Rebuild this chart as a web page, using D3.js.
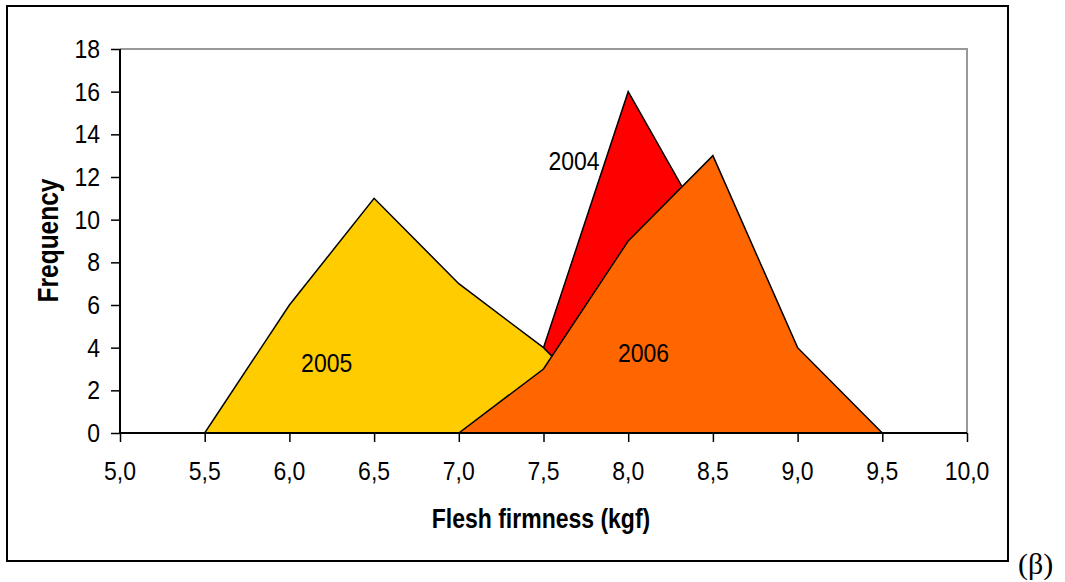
<!DOCTYPE html>
<html><head><meta charset="utf-8">
<script src="https://cdn.jsdelivr.net/npm/d3@7"></script>
<style>body{margin:0;background:#fff}</style>
</head><body>
<svg id="c" width="1065" height="582"></svg>
<script>
const xCategories = [5.0,5.5,6.0,6.5,7.0,7.5,8.0,8.5,9.0,9.5,10.0];
const series2004 = [0,0,0,0,0,4,16,9,2,0,0];
const series2005 = [0,0,6,11,7,4,0,0,0,0,0];
const series2006 = [0,0,0,0,0,3,9,13,4,0,0];
const seriesNames = ["2004","2005","2006"];
const seriesColors = ["#FF0000","#FFCC00","#FF6600"];
const yTicks = [0,2,4,6,8,10,12,14,16,18];
const labelPos = [[7.68,12.33],[6.22,2.86],[8.09,3.33]];

const svg = d3.select("#c");
const font = "Liberation Sans, Arial, sans-serif";
function txt(px, py, str, opt){
  opt = opt || {};
  const t = svg.append("text")
    .attr("transform", `translate(${px},${py})` + (opt.rotate ? ` rotate(${opt.rotate})` : "") + ` scale(1,${opt.sy || 1.1})`)
    .attr("text-anchor", opt.anchor || "middle")
    .attr("font-family", opt.family || font)
    .attr("font-size", opt.size || 23)
    .attr("fill", "#000")
    .text(str);
  if (opt.bold) t.attr("font-weight","bold");
  return t;
}

svg.append("rect").attr("x",7).attr("y",6).attr("width",1001).attr("height",555)
  .attr("fill","none").attr("stroke","#000").attr("stroke-width",2);

const x = d3.scaleLinear().domain([5,10]).range([120,967]);
const y = d3.scaleLinear().domain([0,18]).range([433,49]);

svg.append("path").attr("d",`M120,49H967V433`).attr("fill","none").attr("stroke","#999").attr("stroke-width",2);

const all = [series2004, series2005, series2006];
const area = d3.area().x(d=>x(d[0])).y0(y(0)).y1(d=>y(d[1]));
all.forEach((vals,i)=>{
  const pts = xCategories.map((c,j)=>[c,vals[j]]);
  svg.append("path").attr("d", area(pts))
    .attr("fill", seriesColors[i]).attr("stroke","#000").attr("stroke-width",1.5)
    .attr("stroke-linejoin","miter");
});

const yAxis = d3.axisLeft(y).tickValues(yTicks).tickSize(9).tickFormat("");
const gy = svg.append("g").attr("transform","translate(120,0)").call(yAxis);
const xAxis = d3.axisBottom(x).tickValues(xCategories).tickSize(9).tickFormat("");
const gx = svg.append("g").attr("transform","translate(0,433)").call(xAxis);
[gx,gy].forEach(g=>{
  g.select(".domain").attr("stroke","#000").attr("stroke-width",2);
  g.selectAll(".tick line").attr("stroke","#000").attr("stroke-width",1.5);
});
gy.select(".domain").attr("d","M0,433V49");
gx.select(".domain").attr("d","M120,0H967");

yTicks.forEach(v=>txt(100, y(v)+9, String(v), {anchor:"end"}));
xCategories.forEach(v=>txt(x(v), 480, d3.format(".1f")(v).replace(".",",")));

seriesNames.forEach((n,i)=>txt(x(labelPos[i][0]), y(labelPos[i][1]), n));

txt(541, 528, "Flesh firmness (kgf)", {bold:true, size:23, sy:1.22});
txt(58, 240.5, "Frequency", {bold:true, size:24.5, sy:1.2, rotate:-90});

txt(1018, 574, "(β)", {anchor:"start", family:"Liberation Serif, Times New Roman, serif", size:30, sy:1});
</script>
</body></html>
